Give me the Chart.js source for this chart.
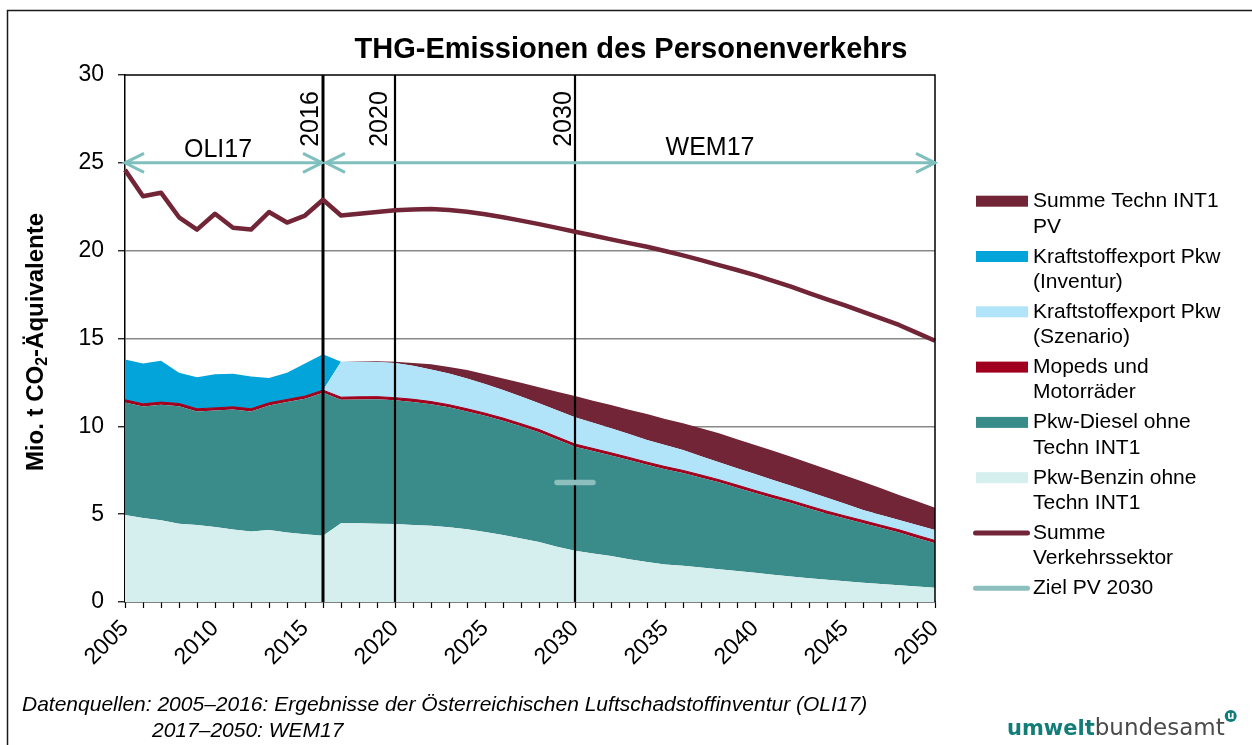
<!DOCTYPE html>
<html><head><meta charset="utf-8">
<script src="https://cdn.jsdelivr.net/npm/chart.js@4.4.1/dist/chart.umd.min.js"></script>
<style>
html,body{margin:0;padding:0;background:#fff;overflow:hidden}
#wrap{position:relative;width:1252px;height:745px}
canvas{display:block}
</style></head><body>
<div id="wrap"><canvas id="c" width="1252" height="745"></canvas></div>
<script>
// ---------- DATA ----------
const years = ['2005','2006','2007','2008','2009','2010','2011','2012','2013','2014','2015','2016',
  '2017','2018','2019','2020','2021','2022','2023','2024','2025','2026','2027','2028','2029','2030',
  '2031','2032','2033','2034','2035','2036','2037','2038','2039','2040','2041','2042','2043','2044',
  '2045','2046','2047','2048','2049','2050'];

const pkwBenzin = [4.95,4.78,4.65,4.45,4.38,4.27,4.13,4.02,4.10,3.95,3.86,3.77,
  4.48,4.48,4.46,4.44,4.39,4.34,4.25,4.14,3.99,3.82,3.62,3.41,3.15,2.92,
  2.76,2.62,2.44,2.27,2.14,2.06,1.96,1.86,1.76,1.66,1.55,1.45,1.35,1.26,
  1.18,1.10,1.03,0.96,0.88,0.81];

const pkwDiesel = [6.41,6.35,6.58,6.70,6.47,6.63,6.83,6.83,7.09,7.43,7.71,8.14,
  7.03,7.05,7.08,7.04,7.00,6.92,6.83,6.71,6.61,6.50,6.38,6.26,6.10,5.92,
  5.83,5.72,5.64,5.54,5.42,5.28,5.12,4.95,4.75,4.54,4.36,4.18,3.97,3.76,
  3.57,3.39,3.19,3.00,2.77,2.54];

const mopeds = [0.15,0.15,0.15,0.15,0.15,0.15,0.15,0.15,0.15,0.15,0.15,0.15,
  0.15,0.15,0.15,0.15,0.15,0.15,0.15,0.15,0.15,0.15,0.15,0.15,0.15,0.15,
  0.15,0.15,0.15,0.15,0.15,0.15,0.15,0.15,0.15,0.15,0.15,0.15,0.15,0.15,
  0.15,0.15,0.15,0.15,0.15,0.15];

const exportSzenario = [0,0,0,0,0,0,0,0,0,0,0,0,
  2.02,2.00,1.97,1.97,1.91,1.83,1.78,1.73,1.66,1.60,1.55,1.49,1.51,1.52,
  1.46,1.40,1.33,1.26,1.23,1.16,1.07,0.99,0.96,0.94,0.89,0.84,0.81,0.77,
  0.69,0.60,0.58,0.56,0.58,0.60];

const exportInventur = [2.30,2.30,2.35,1.75,1.79,1.91,1.88,1.84,1.41,1.52,1.86,2.05,
  0,0,0,0,0,0,0,0,0,0,0,0,0,0,
  0,0,0,0,0,0,0,0,0,0,0,0,0,0,
  0,0,0,0,0,0];

const technINT1 = [0,0,0,0,0,0,0,0,0,0,0,0,
  0,0.02,0.04,0.07,0.15,0.29,0.37,0.47,0.56,0.66,0.78,0.91,1.06,1.21,
  1.26,1.32,1.39,1.48,1.48,1.52,1.59,1.65,1.65,1.65,1.66,1.65,1.63,1.61,
  1.61,1.61,1.52,1.42,1.35,1.27];

const summeVerkehr = [24.6,23.1,23.3,21.9,21.2,22.1,21.3,21.2,22.2,21.6,22.0,22.9,
  22.0,22.1,22.2,22.3,22.35,22.37,22.32,22.22,22.07,21.9,21.71,21.51,21.30,21.08,
  20.86,20.64,20.43,20.22,19.98,19.73,19.46,19.18,18.90,18.61,18.28,17.95,17.59,17.23,
  16.89,16.51,16.14,15.77,15.32,14.87];

const zielPV2030 = [null,null,null,null,null,null,null,null,null,null,null,null,
  null,null,null,null,null,null,null,null,null,null,null,null,6.8,6.8,
  6.8,null,null,null,null,null,null,null,null,null,null,null,null,null,
  null,null,null,null,null,null];

const yTicks = [0,5,10,15,20,25,30];
const markerYears = ['2016','2020','2030'];
const periodLabels = ['OLI17','WEM17'];
const periodRanges = [['2005','2016'],['2016','2050']];

const seriesLabels = ['Pkw-Benzin ohne Techn INT1','Pkw-Diesel ohne Techn INT1','Mopeds und Motorräder',
  'Kraftstoffexport Pkw (Szenario)','Kraftstoffexport Pkw (Inventur)','Summe Techn INT1 PV',
  'Summe Verkehrssektor','Ziel PV 2030'];
const legendLines = [
  ['Summe Techn INT1','PV'],
  ['Kraftstoffexport Pkw','(Inventur)'],
  ['Kraftstoffexport Pkw','(Szenario)'],
  ['Mopeds und','Motorräder'],
  ['Pkw-Diesel ohne','Techn INT1'],
  ['Pkw-Benzin ohne','Techn INT1'],
  ['Summe','Verkehrssektor'],
  ['Ziel PV 2030']
];
const legendOrder = [5,4,3,2,1,0,6,7];

const titleText = 'THG-Emissionen des Personenverkehrs';
const footerLines = ['Datenquellen: 2005–2016: Ergebnisse der Österreichischen Luftschadstoffinventur (OLI17)',
  '2017–2050: WEM17'];

// ---------- STYLE ----------
const FONT = "'Liberation Sans', Arial, Helvetica, sans-serif";
const C = {
  benzin:'#d5eeee', diesel:'#3a8c8a', mopeds:'#a0001e', szen:'#b1e4f9', inv:'#03a4d9',
  techn:'#722536', summe:'#722536', ziel:'#8dbfbf', arrow:'#7fc0be'
};

function areaDs(label, data, color, fill, bw) {
  return { type:'line', label, data, backgroundColor:color, borderColor:color, borderWidth:bw||0,
    fill, pointRadius:0, pointHoverRadius:0, tension:0, stack:'a', order:0 };
}

const datasets = [
  areaDs(seriesLabels[0], pkwBenzin, C.benzin, 'origin'),
  areaDs(seriesLabels[1], pkwDiesel, C.diesel, '-1'),
  areaDs(seriesLabels[2], mopeds, C.mopeds, '-1', 1),
  areaDs(seriesLabels[3], exportSzenario, C.szen, '-1'),
  areaDs(seriesLabels[4], exportInventur, C.inv, '-1'),
  areaDs(seriesLabels[5], technINT1, C.techn, '-1'),
  { type:'line', label:seriesLabels[6], data:summeVerkehr, borderColor:C.summe, backgroundColor:C.summe,
    borderWidth:4.5, fill:false, pointRadius:0, tension:0, stack:'s', order:-1, borderJoinStyle:'round' },
  { type:'line', label:seriesLabels[7], data:zielPV2030, borderColor:C.ziel, backgroundColor:C.ziel,
    borderWidth:5.5, fill:false, pointRadius:0, tension:0, stack:'z', order:-2, borderCapStyle:'round' }
];

function drawArrowHead(ctx, tipX, y, dir) {
  ctx.beginPath();
  ctx.moveTo(tipX + dir*19, y - 9.5);
  ctx.lineTo(tipX, y);
  ctx.lineTo(tipX + dir*19, y + 9.5);
  ctx.stroke();
}

const decor = {
  id:'decor',
  afterDatasetDraw(chart, args) {
    if (args.index !== 0) return;
    const {ctx, chartArea:ca, scales:{x}} = chart;
    ctx.save();
    const widths = [3, 2.2, 2.2];
    markerYears.forEach((yr, i) => {
      const px = x.getPixelForValue(years.indexOf(yr));
      ctx.strokeStyle = '#000'; ctx.lineWidth = widths[i];
      ctx.beginPath(); ctx.moveTo(px, ca.top); ctx.lineTo(px, ca.bottom); ctx.stroke();
    });
    ctx.restore();
  },
  afterDatasetsDraw(chart) {
    const {ctx, chartArea:ca, scales:{x, y}} = chart;
    ctx.save();
    ctx.strokeStyle = '#000'; ctx.lineWidth = 1.5;
    ctx.beginPath(); ctx.moveTo(ca.left, ca.top); ctx.lineTo(ca.right, ca.top); ctx.lineTo(ca.right, ca.bottom); ctx.stroke();
    ctx.fillStyle = '#000';
    ctx.font = '25px ' + FONT;
    const offs = [5, 8, 4];
    markerYears.forEach((yr, i) => {
      const px = x.getPixelForValue(years.indexOf(yr));
      ctx.save();
      ctx.translate(px - offs[i], y.getPixelForValue(25) - 16);
      ctx.rotate(-Math.PI/2);
      ctx.textAlign = 'left'; ctx.textBaseline = 'alphabetic';
      ctx.fillText(yr, 0, 0);
      ctx.restore();
    });
    const ay = y.getPixelForValue(25);
    ctx.strokeStyle = C.arrow; ctx.lineWidth = 3; ctx.lineJoin = 'miter'; ctx.lineCap = 'butt';
    periodRanges.forEach(([a, b]) => {
      const x1 = x.getPixelForValue(years.indexOf(a)) + (a === '2016' ? 3 : 0);
      const x2 = x.getPixelForValue(years.indexOf(b)) - (b === '2016' ? 1 : 0);
      ctx.beginPath(); ctx.moveTo(x1, ay); ctx.lineTo(x2, ay); ctx.stroke();
      drawArrowHead(ctx, x1, ay, 1);
      drawArrowHead(ctx, x2, ay, -1);
    });
    ctx.fillStyle = '#000'; ctx.font = '25px ' + FONT; ctx.textAlign = 'center'; ctx.textBaseline = 'alphabetic';
    ctx.fillText(periodLabels[0], x.getPixelForValue(5.17), ay - 6);
    ctx.fillText(periodLabels[1], x.getPixelForValue(32.5), ay - 8);
    ctx.restore();
  },
  afterDraw(chart) {
    const {ctx} = chart;
    const ds = chart.data.datasets;
    ctx.save();
    ctx.strokeStyle = '#1a1a1a'; ctx.lineWidth = 1.5;
    ctx.beginPath(); ctx.moveTo(7.5, 745); ctx.lineTo(7.5, 10.5); ctx.lineTo(1252, 10.5); ctx.stroke();
    ctx.fillStyle = '#000'; ctx.font = 'bold 29px ' + FONT; ctx.textAlign = 'center'; ctx.textBaseline = 'alphabetic';
    ctx.fillText(titleText, 631, 58);
    ctx.save();
    ctx.translate(43, 342);
    ctx.rotate(-Math.PI/2);
    const parts = [['Mio. t CO', 'bold 24px '], ['2', 'bold 16px '], ['-Äquivalente', 'bold 24px ']];
    let total = 0;
    parts.forEach(p => { ctx.font = p[1] + FONT; total += ctx.measureText(p[0]).width; });
    let cx = -total/2;
    ctx.textAlign = 'left';
    parts.forEach((p, i) => {
      ctx.font = p[1] + FONT;
      ctx.fillText(p[0], cx, i === 1 ? 4 : 0);
      cx += ctx.measureText(p[0]).width;
    });
    ctx.restore();
    ctx.font = '21px ' + FONT; ctx.textAlign = 'left'; ctx.textBaseline = 'alphabetic';
    legendOrder.forEach((di, i) => {
      const top = 195.7 + i*55.3;
      const d = ds[di];
      if (di >= 6) {
        ctx.strokeStyle = d.borderColor; ctx.lineWidth = 5; ctx.lineCap = 'round';
        ctx.beginPath(); ctx.moveTo(975.5, top + 5.5); ctx.lineTo(1027.5, top + 5.5); ctx.stroke();
      } else {
        ctx.fillStyle = d.backgroundColor;
        ctx.fillRect(976, top, 52, 11);
      }
      ctx.fillStyle = '#000';
      legendLines[i].forEach((t, k) => ctx.fillText(t, 1033, top + 11.5 + k*25.3));
    });
    ctx.font = 'italic 21px ' + FONT; ctx.fillStyle = '#000';
    ctx.fillText(footerLines[0], 22, 711);
    ctx.fillText(footerLines[1], 152, 737);
    const LF = "'DejaVu Sans', Verdana, sans-serif";
    ctx.font = 'bold 21px ' + LF; ctx.fillStyle = '#127d78';
    ctx.fillText('umwelt', 1007, 735);
    let w = ctx.measureText('umwelt').width;
    ctx.font = '23px ' + LF; ctx.fillStyle = '#4a4a4a';
    ctx.fillText('bundesamt', 1007 + w, 735);
    const w2 = ctx.measureText('bundesamt').width;
    const ix = 1007 + w + w2 + 6, iy = 716;
    ctx.fillStyle = '#127d78';
    ctx.beginPath(); ctx.arc(ix, iy, 6, 0, Math.PI*2); ctx.fill();
    ctx.fillStyle = '#fff'; ctx.font = 'bold 10px ' + LF; ctx.textAlign = 'center'; ctx.textBaseline = 'middle';
    ctx.fillText('u', ix, iy);
    ctx.restore();
  }
};

new Chart(document.getElementById('c'), {
  type:'line',
  data:{ labels:years, datasets },
  options:{
    responsive:false, animation:false, devicePixelRatio:1,
    layout:{ padding:{ left:0, top:75, right:317, bottom:0 } },
    plugins:{ legend:{display:false}, title:{display:false}, tooltip:{enabled:false},
      filler:{ drawTime:'beforeDatasetDraw' } },
    elements:{ line:{ borderJoinStyle:'miter' } },
    scales:{
      x:{ type:'category', offset:false,
        grid:{ display:true, drawOnChartArea:false, drawTicks:true, tickLength:6, tickColor:'#000', tickWidth:1.2 },
        border:{ color:'#000', width:1.5 },
        ticks:{ autoSkip:false, maxRotation:45, minRotation:45, color:'#000', padding:7,
          font:{ family:FONT, size:23 },
          callback:function(v, i){ const l = this.getLabelForValue(v); return (+l % 5 === 0) ? l : ''; } },
        afterFit(s){ s.height = 143; }
      },
      y:{ stacked:true, min:0, max:30,
        afterBuildTicks(s){ s.ticks = yTicks.map(v => ({value:v})); },
        grid:{ color:(c) => (c.tick && (c.tick.value === 0 || c.tick.value === 30)) ? 'rgba(0,0,0,0)' : '#888',
          lineWidth:1.5, drawTicks:true, tickLength:7, tickColor:'#000', tickWidth:1.2 },
        border:{ color:'#000', width:1.5 },
        ticks:{ color:'#000', padding:14, font:{ family:FONT, size:23 } },
        afterFit(s){ s.width = 125; }
      }
    }
  },
  plugins:[decor]
});
</script>
</body></html>
